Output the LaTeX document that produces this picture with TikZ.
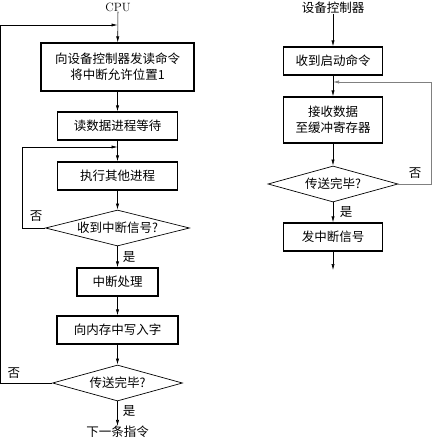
\documentclass[tikz,border=0pt]{standalone}
\usepackage{fontspec}
\newfontfamily\cjk{Noto Sans CJK SC}
\usepackage{tikz}
\usetikzlibrary{arrows.meta,shapes.geometric}

\begin{document}
\begin{tikzpicture}[x=1pt,y=-1pt,
  proc/.style={draw,line width=1.1pt,minimum height=28pt,inner sep=0pt,align=center,font=\cjk\fontsize{12.5}{16}\selectfont},
  cond/.style={diamond,aspect=4,draw,line width=0.7pt,minimum width=130pt,minimum height=36pt,inner sep=0pt,font=\cjk\fontsize{12.5}{15}\selectfont},
  lbl/.style={inner sep=0pt,font=\cjk\fontsize{12.5}{15}\selectfont},
  arr/.style={-{Latex[length=6pt,width=3.2pt]},line width=0.6pt}]
  \useasboundingbox (0,0) rectangle (433,439);

  % CPU side
  \node[inner sep=0pt,font=\fontsize{12}{14}\selectfont] (cpu) at (118,7) {CPU};
  \coordinate (j1) at (117.5,25);
  \node[proc,minimum width=153pt,minimum height=48pt] (send) at (117.5,67) {向设备控制器发读命令\\将中断允许位置1};
  \node[proc,minimum width=120pt] (wait) at (117.5,126) {读数据进程等待};
  \coordinate (j2) at (117.5,147);
  \node[proc,minimum width=120pt] (other) at (117.5,176) {执行其他进程};
  \node[cond,minimum width=144pt] (irq) at (117.5,228) {收到中断信号?};
  \node[lbl] at (36,216) {否};
  \node[lbl] at (129,257) {是};
  \node[proc,minimum width=81pt] (handle) at (117.5,282) {中断处理};
  \node[proc,minimum width=121pt] (write) at (117.5,330) {向内存中写入字};
  \node[cond] (doneL) at (117.5,383) {传送完毕?};
  \node[lbl] at (14,373) {否};
  \node[lbl] at (129,411) {是};
  \node[lbl] (next) at (117.5,432) {下一条指令};

  % Controller side
  \node[lbl] (dev) at (333,8) {设备控制器};
  \node[proc,minimum width=99pt] (start) at (333,61) {收到启动命令};
  \coordinate (j3) at (333,82);
  \node[proc,minimum width=99pt,minimum height=46pt] (recv) at (333,120) {接收数据\\至缓冲寄存器};
  \node[cond] (doneR) at (333,184) {传送完毕?};
  \node[lbl] at (415,173) {否};
  \node[lbl] at (346,212) {是};
  \node[proc,minimum width=99pt] (sig) at (333,237) {发中断信号};
  \coordinate (out) at (333,270);

  % Connections
  \draw[arr] (cpu) -- (send);
  \draw[arr] (send) -- (wait);
  \draw[arr] (wait) -- (other);
  \draw[arr] (other) -- (irq);
  \draw[arr] (irq) -- (handle);
  \draw[arr] (handle) -- (write);
  \draw[arr] (write) -- (doneL);
  \draw[arr] (doneL) -- (next);
  \draw[arr] (irq.west) -- ++(-23,0) |- (j2);
  \draw[arr] (doneL.west) -- ++(-51.5,0) |- (j1);

  \draw[arr] (dev) -- (start);
  \draw[arr] (start) -- (recv);
  \draw[arr] (recv) -- (doneR);
  \draw[arr] (doneR) -- (sig);
  \draw[arr] (sig) -- (out);
  \draw[arr,gray] (doneR.east) -- ++(33,0) |- (j3);
\end{tikzpicture}
\end{document}
